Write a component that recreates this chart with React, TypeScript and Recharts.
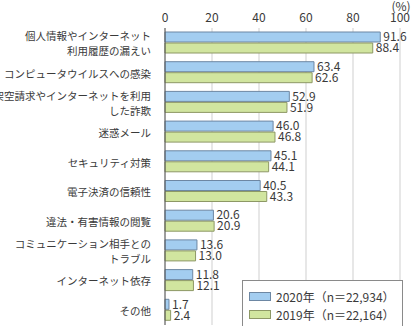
import { BarChart, Bar, XAxis, YAxis, CartesianGrid, LabelList, Legend, Label } from 'recharts'

const categories = [
  '個人情報やインターネット\n利用履歴の漏えい',
  'コンピュータウイルスへの感染',
  '架空請求やインターネットを利用\nした詐欺',
  '迷惑メール',
  'セキュリティ対策',
  '電子決済の信頼性',
  '違法・有害情報の閲覧',
  'コミュニケーション相手との\nトラブル',
  'インターネット依存',
  'その他',
]
const values2020 = [91.6, 63.4, 52.9, 46.0, 45.1, 40.5, 20.6, 13.6, 11.8, 1.7]
const values2019 = [88.4, 62.6, 51.9, 46.8, 44.1, 43.3, 20.9, 13.0, 12.1, 2.4]
const seriesOrder = ['y2020', 'y2019']
const xTicks = [0, 20, 40, 60, 80, 100]
const boundaryTicks = [1, 2, 3, 4, 5, 6, 7, 8, 9]

const data = categories.map((name, i) => ({ name, y2020: values2020[i], y2019: values2019[i] }))

const FONT = '"Noto Sans CJK JP", "Noto Sans", sans-serif'
const TEXT = '#3a3a3a'

function CategoryTick({ x, y, payload }: any) {
  const lines = String(payload.value).split('\n')
  const lh = 15
  const start = y - ((lines.length - 1) * lh) / 2
  return (
    <text x={x - 6} y={start} textAnchor="end" fontSize={10.5} fill={TEXT} fontFamily={FONT} dominantBaseline="central">
      {lines.map((l, i) => (
        <tspan key={i} x={x - 6} y={start + i * lh}>{l}</tspan>
      ))}
    </text>
  )
}

function LegendBox({ payload }: any) {
  const items = [...(payload || [])].sort((a: any, b: any) => seriesOrder.indexOf(a.dataKey) - seriesOrder.indexOf(b.dataKey))
  return (
    <div style={{ border: '1px solid #8a8a8a', background: '#fff', width: 161, height: 47, boxSizing: 'border-box', padding: '7px 0 0 6px', fontFamily: FONT, fontSize: 12, color: TEXT }}>
      {items.map((p: any) => (
        <div key={p.value} style={{ display: 'flex', alignItems: 'center', height: 17.5 }}>
          <span style={{ display: 'inline-block', width: 20, height: 7, background: p.color, border: `1px solid ${p.payload?.stroke ?? '#777'}`, marginRight: 5 }} />
          <span>{p.value}</span>
        </div>
      ))}
    </div>
  )
}

export default function App() {
  return (
    <div style={{ position: 'absolute', left: 0, top: 0, background: '#fff' }}>
      <BarChart
        width={412}
        height={326}
        data={data}
        layout="vertical"
        margin={{ top: 4, right: 12, bottom: 1, left: 0 }}
        barSize={10}
        barGap={1}
      >
        <CartesianGrid horizontal={false} stroke="#cfcfcf" />
        <XAxis
          type="number"
          orientation="top"
          domain={[0, 100]}
          ticks={xTicks}
          height={24}
          axisLine={false}
          tickLine={false}
          tickSize={0}
          tickMargin={6}
          tick={{ fontSize: 12, fill: TEXT, fontFamily: FONT }}
          interval={0}
        >
          <Label
            content={(props: any) => (
              <text x={props.viewBox.x + props.viewBox.width + 1} y={11} textAnchor="middle" fontSize={12} fill={TEXT} fontFamily={FONT}>
                (%)
              </text>
            )}
          />
        </XAxis>
        <YAxis
          yAxisId="cat"
          type="category"
          dataKey="name"
          width={165}
          axisLine={{ stroke: '#555' }}
          tickLine={false}
          tick={<CategoryTick />}
          interval={0}
        />
        <YAxis
          yAxisId="marks"
          type="number"
          domain={[0, 10]}
          ticks={boundaryTicks}
          width={0}
          axisLine={false}
          tick={false}
          tickSize={4}
          tickLine={{ stroke: '#555' }}
        />
        <Legend
          layout="horizontal"
          verticalAlign="middle"
          align="center"
          content={<LegendBox />}
          wrapperStyle={{ position: 'absolute', left: 242, top: 280, width: 161 }}
        />
        <Bar yAxisId="cat" dataKey="y2020" name="2020年（n＝22,934）" fill="#a3cdf0" stroke="#6d87a3" strokeWidth={1} isAnimationActive={false}>
          <LabelList dataKey="y2020" position="right" offset={3} fill={TEXT} fontSize={12} fontFamily={FONT} formatter={(v: any) => Number(v).toFixed(1)} />
        </Bar>
        <Bar yAxisId="cat" dataKey="y2019" name="2019年（n＝22,164）" fill="#d1e59f" stroke="#8d9865" strokeWidth={1} isAnimationActive={false}>
          <LabelList dataKey="y2019" position="right" offset={3} fill={TEXT} fontSize={12} fontFamily={FONT} formatter={(v: any) => Number(v).toFixed(1)} />
        </Bar>
      </BarChart>
    </div>
  )
}
